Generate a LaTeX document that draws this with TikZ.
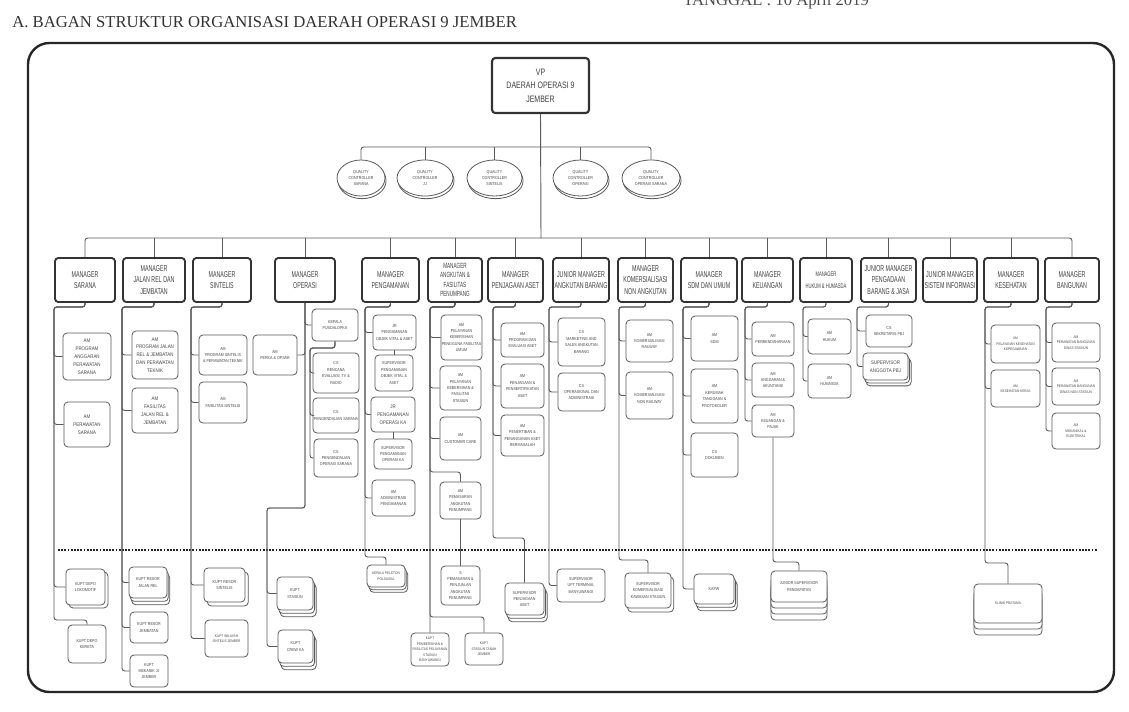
\documentclass[tikz,border=0pt]{standalone}
\usepackage{fontspec}
\setmainfont{Liberation Sans}
\newfontfamily\nar{Liberation Sans}[FakeStretch=0.62]
\newfontfamily\vpf{Liberation Sans}[FakeStretch=0.75]
\newfontfamily\sml{Liberation Sans}[FakeStretch=0.85]
\newfontfamily\ttl{Liberation Serif}
\usetikzlibrary{shapes.geometric,shadows}
\newcommand\fS{\sml\fontsize{3.9}{5.9}\selectfont}
\newcommand\fT{\sml\fontsize{3.2}{4.8}\selectfont}
\newcommand\fU{\sml\fontsize{2.8}{4.1}\selectfont}
\newcommand\fM{\nar\fontsize{6.4}{8.6}\selectfont}
\newcommand\bx[7][]{\node[#1,minimum width={(#5-#3)*0.75pt},minimum height={(#6-#4)*0.75pt}] (#2) at ({(#3+#5)/2},{(#4+#6)/2}) {#7};}
\tikzset{
 mgr/.style={draw=black!80,line width=1.4pt,rounded corners=2.5pt,fill=white,align=center,inner sep=0pt,font=\fM,text=black!75},
 sb/.style={draw=black!65,line width=0.6pt,rounded corners=3pt,fill=white,align=center,inner sep=0pt,font=\fT,text=black!72},
 sh/.style 2 args={general shadow={shadow xshift=#1pt,shadow yshift=-#2pt,draw=black!65,fill=white,line width=0.6pt}},
 sk1/.style 2 args={sh={#1}{#2}},
 sk2/.style 2 args={sh={2*#1}{2*#2},sh={#1}{#2}},
 sk3/.style 2 args={sh={3*#1}{3*#2},sh={2*#1}{2*#2},sh={#1}{#2}},
 qc/.style={ellipse,draw=black!65,line width=0.6pt,fill=white,align=center,inner sep=0pt,font=\fT,text=black!72,sh={0.8}{2}},
 cn/.style={draw=black!65,line width=0.7pt,rounded corners=2pt},
 dotl/.style={draw=black!85,line width=1.3pt,dash pattern=on 1.3pt off 1.1pt},
}
\begin{document}
\begin{tikzpicture}[x=0.75pt,y=-0.75pt]
\fill[white] (0,0) rectangle (1129,711);
\useasboundingbox (0,0) rectangle (1129,711);
% title
\node[anchor=base west,inner sep=0pt,font=\ttl\fontsize{12.5}{15}\selectfont,text=black!80] (title) at (12,27) {A. BAGAN STRUKTUR ORGANISASI DAERAH OPERASI 9 JEMBER};
\node[anchor=base west,inner sep=0pt,font=\ttl\fontsize{12.5}{15}\selectfont,text=black!70] (tgl) at (683,5) {TANGGAL : 10 April 2019};
% frame
\draw[line width=1.8pt,black!85,rounded corners=16pt] (28,43) rectangle (1114,692);
% VP and QC
\bx[mgr,font=\vpf\fontsize{7}{10}\selectfont,line width=1.6pt]{vp}{492}{58}{589}{113}{VP\\DAERAH OPERASI 9\\JEMBER}
\bx[qc]{q1}{337}{160}{385}{196}{QUALITY\\CONTROLLER\\SARANA}
\bx[qc]{q2}{397}{160}{453}{196}{QUALITY\\CONTROLLER\\JJ}
\bx[qc]{q3}{467}{160}{522}{196}{QUALITY\\CONTROLLER\\SINTELIS}
\bx[qc]{q4}{553}{160}{608}{196}{QUALITY\\CONTROLLER\\OPERASI}
\bx[qc]{q5}{622}{160}{680}{196}{QUALITY\\CONTROLLER\\OPERASI SARANA}
\coordinate (qy) at (541,147);
\coordinate (mb) at (541,238);
\draw[cn] (q1.north) |- (qy) -| (q5.north);
\foreach \q in {q2,q3,q4} \draw[cn] (\q.north) -- (\q.north |- qy);
\draw[cn] (vp.south) -- (mb);
% managers
\bx[mgr]{mS}{55}{258}{115}{302}{MANAGER\\SARANA}
\bx[mgr]{mJ}{123}{258}{185}{302}{MANAGER\\JALAN REL DAN\\JEMBATAN}
\bx[mgr]{mT}{193}{258}{251}{302}{MANAGER\\SINTELIS}
\bx[mgr]{mO}{275}{258}{335}{302}{MANAGER\\OPERASI}
\bx[mgr]{mP}{362}{258}{419}{302}{MANAGER\\PENGAMANAN}
\bx[mgr,font=\nar\fontsize{5.6}{7}\selectfont]{mA}{428}{258}{482}{302}{MANAGER\\ANGKUTAN \&\\FASILITAS\\PENUMPANG}
\bx[mgr]{mJa}{488}{258}{543}{302}{MANAGER\\PENJAGAAN ASET}
\bx[mgr]{mB}{553}{258}{609}{302}{JUNIOR MANAGER\\ANGKUTAN BARANG}
\bx[mgr]{mK}{618}{258}{673}{302}{MANAGER\\KOMERSIALISASI\\NON ANGKUTAN}
\bx[mgr]{mD}{681}{258}{737}{302}{MANAGER\\SDM DAN UMUM}
\bx[mgr]{mU}{742}{258}{793}{302}{MANAGER\\KEUANGAN}
\bx[mgr,font=\nar\fontsize{5}{8.6}\selectfont]{mH}{800}{258}{852}{302}{MANAGER\\HUKUM \& HUMASDA}
\bx[mgr]{mG}{861}{258}{916}{302}{JUNIOR MANAGER\\PENGADAAN\\BARANG \& JASA}
\bx[mgr]{mI}{923}{258}{977}{302}{JUNIOR MANAGER\\SISTEM INFORMASI}
\bx[mgr]{mE}{984}{258}{1038}{302}{MANAGER\\KESEHATAN}
\bx[mgr]{mN}{1045}{258}{1099}{302}{MANAGER\\BANGUNAN}
\draw[cn] (mS.north) |- (mb) -| (mN.north);
\foreach \m in {mJ,mT,mO,mP,mA,mJa,mB,mK,mD,mU,mH,mG,mI,mE} \draw[cn] (\m.north) -- (\m.north |- mb);
% dotted separator
\coordinate (dl) at (58,550); \coordinate (dr) at (1097,550);
\draw[dotl] (dl) -- (dr);
% SARANA
\bx[sb,font=\fS]{s1a}{63}{333}{111}{380}{AM\\PROGRAM\\ANGGARAN\\PERAWATAN\\SARANA}
\bx[sb,font=\fS]{s1b}{64}{402}{110}{447}{AM\\PERAWATAN\\SARANA}
\bx[sb,sk1={2.2}{2.2}]{s1c}{66}{569}{105}{605}{KUPT DEPO\\LOKOMOTIF}
\bx[sb]{s1d}{68}{625}{106}{663}{KUPT DEPO\\KERETA}
\coordinate (sS) at (54,307); \coordinate (sSj) at (54,620);
\foreach \c in {s1a,s1b,s1c} \draw[cn] (mS.south) |- (sS) |- (\c.west);
\draw[cn] (mS.south) |- (sS) -- (sSj) -| (s1d.north);
% JALAN REL
\bx[sb,font=\fS]{j1a}{132}{331}{178}{379}{AM\\PROGRAM JALAN\\REL \& JEMBATAN\\DAN PERAWATAN\\TEKNIK}
\bx[sb,font=\fS]{j1b}{132}{388}{178}{433}{AM\\FASILITAS\\JALAN REL \&\\JEMBATAN}
\bx[sb,sk2={1}{2.5}]{j1c}{129}{567}{167}{598}{KUPT RESOR\\JALAN REL}
\bx[sb]{j1d}{130}{612}{168}{643}{KUPT RESOR\\JEMBATAN}
\bx[sb]{j1e}{130}{655}{168}{687}{KUPT\\MEKANIK JJ\\JEMBER}
\coordinate (sJ) at (122,307);
\foreach \c in {j1a,j1b,j1c,j1d,j1e} \draw[cn] (mJ.south) |- (sJ) |- (\c.west);
% SINTELIS
\bx[sb]{t1a}{199}{335}{247}{375}{AM\\PROGRAM SINTELIS\\\& PERAWATAN TEKNIK}
\bx[sb]{t1b}{199}{382}{247}{423}{AM\\FASILITAS SINTELIS}
\bx[sb,sk1={2.5}{3}]{t1c}{204}{568}{245}{602}{KUPT RESOR\\SINTELIS}
\bx[sb,font=\fU]{t1d}{205}{620}{248}{657}{KUPT WILAYAH\\SINTELIS JEMBER}
\coordinate (sT) at (191,307);
\foreach \c in {t1a,t1b,t1c,t1d} \draw[cn] (mT.south) |- (sT) |- (\c.west);
% OPERASI
\bx[sb]{o1}{253}{335}{297}{375}{AM\\PERKA \& OPSAR}
\bx[sb]{o2}{312}{309}{358}{341}{KEPALA\\PUSDALOPKA}
\bx[sb]{o3}{313}{353}{359}{393}{CS\\RENCANA\\EVALUASI, TV \&\\RADIO}
\bx[sb]{o4}{313}{398}{359}{433}{CS\\PENGENDALIAN SARANA}
\bx[sb]{o5}{314}{439}{358}{477}{CS\\PENGENDALIAN\\OPERASI SARANA}
\bx[sb,sk2={1.2}{2.5}]{o6}{277}{577}{313}{610}{KUPT\\STASIUN}
\bx[sb,sk2={1.2}{2.5}]{o7}{278}{630}{313}{663}{KUPT\\CREW KA}
\coordinate (oA) at (305,508); \coordinate (oB) at (267,508); \coordinate (oC) at (310,348);
\draw[cn] (mO.south) |- (o1.east);
\draw[cn] (mO.south) |- (o2.west);
\foreach \c in {o3,o4,o5} \draw[cn] (o2.south) |- (oC) |- (\c.west);
\foreach \c in {o6,o7} \draw[cn] (mO.south) -- (oA) -- (oB) |- (\c.west);
% PENGAMANAN
\bx[sb]{p1}{373}{315}{416}{350}{JR\\PENGAMANAN\\OBJEK VITAL \& ASET}
\bx[sb]{p2}{375}{355}{413}{391}{SUPERVISOR\\PENGAMANAN\\OBJEK VITAL \&\\ASET}
\bx[sb,font=\fS]{p3}{371}{397}{415}{432}{JR\\PENGAMANAN\\OPERASI KA}
\bx[sb]{p4}{374}{439}{412}{469}{SUPERVISOR\\PENGAMANAN\\OPERASI KA}
\bx[sb]{p5}{372}{480}{415}{516}{AM\\ADMINISTRASI\\PENGAMANAN}
\bx[sb,font=\fU,sk2={1}{2}]{p6}{367}{565}{405}{587}{KEPALA PELETON\\POLSUSKA}
\coordinate (sP) at (365,307); \coordinate (sPj) at (365,557);
\foreach \c in {p1,p3,p5} \draw[cn] (mP.south) |- (sP) |- (\c.west);
\draw[cn] (p1.south) -- (p1.south |- p2.north);
\draw[cn] (p3.south) -- (p3.south |- p4.north);
\draw[cn] (mP.south) |- (sP) -- (sPj) -| (p6.north);
% ANGKUTAN & FASILITAS PENUMPANG
\bx[sb]{a1}{441}{315}{482}{360}{AM\\PELAYANAN\\KEBERSIHAN\\PENGGUNA FASILITAS\\UMUM}
\bx[sb]{a2}{440}{366}{481}{410}{AM\\PELAYANAN\\KEBERSIHAN \&\\FASILITAS\\STASIUN}
\bx[sb]{a3}{440}{417}{481}{460}{AM\\CUSTOMER CARE}
\bx[sb]{a4}{440}{482}{481}{519}{AM\\PEMASARAN\\ANGKUTAN\\PENUMPANG}
\bx[sb]{a5}{441}{566}{480}{605}{S\\PEMASARAN \&\\PENJUALAN\\ANGKUTAN\\PENUMPANG}
\bx[sb,font=\fU]{a6}{411}{633}{449}{666}{KUPT\\PEMBERSIHAN \&\\FASILITAS PELAYANAN\\STASIUN\\BANYUWANGI}
\bx[sb,font=\fU]{a7}{465}{633}{503}{665}{KUPT\\STASIUN TANAH\\JEMBER}
\coordinate (sA) at (430,307); \coordinate (sAj) at (430,472); \coordinate (sAk) at (430,617);
\foreach \c in {a1,a2,a3} \draw[cn] (mA.south) |- (sA) |- (\c.west);
\draw[cn] (mA.south) |- (sA) -- (sAj) -| (a4.north);
\draw[cn] (a4.south) -- (a4.south |- a5.north);
\draw[cn] (mA.south) |- (sA) -- (a6.north);
\draw[cn] (mA.south) |- (sA) -- (sAk) -| (a7.north);
% PENJAGAAN ASET
\bx[sb]{ja1}{501}{323}{544}{357}{AM\\PROGRAM DAN\\EVALUASI ASET}
\bx[sb]{ja2}{501}{364}{544}{408}{AM\\PENJAGAAN \&\\PENSERTIFIKATAN\\ASET}
\bx[sb]{ja3}{501}{415}{544}{456}{AM\\PENERTIBAN \&\\PENANGANAN ASET\\BERMASALAH}
\bx[sb,sk2={1.2}{2.5}]{ja4}{505}{583}{544}{615}{SUPERVISOR\\PENJAGAAN\\ASET}
\coordinate (sJa) at (493,307); \coordinate (sJaj) at (493,538);
\foreach \c in {ja1,ja2,ja3} \draw[cn] (mJa.south) |- (sJa) |- (\c.west);
\draw[cn] (mJa.south) |- (sJa) -- (sJaj) -| (ja4.north);
% ANGKUTAN BARANG
\bx[sb]{b1}{558}{318}{605}{366}{CS\\MARKETING AND\\SALES ANGKUTAN\\BARANG}
\bx[sb]{b2}{558}{373}{605}{411}{CS\\OPERASIONAL DAN\\ADMINISTRASI}
\bx[sb]{b3}{557}{569}{605}{602}{SUPERVISOR\\UPT TERMINAL\\BANYUWANGI}
\coordinate (sB) at (549,307);
\foreach \c in {b1,b2,b3} \draw[cn] (mB.south) |- (sB) |- (\c.west);
% KOMERSIALISASI
\bx[sb]{k1}{626}{320}{673}{362}{AM\\KOMERSIALISASI\\RAILWAY}
\bx[sb]{k2}{626}{372}{673}{419}{AM\\KOMERSIALISASI\\NON RAILWAY}
\bx[sb,sk1={2}{3}]{k3}{625}{573}{671}{608}{SUPERVISOR\\KOMERSIALISASI\\KAWASAN STASIUN}
\coordinate (sK) at (619,307); \coordinate (sKj) at (619,560);
\foreach \c in {k1,k2} \draw[cn] (mK.south) |- (sK) |- (\c.west);
\draw[cn] (mK.south) |- (sK) -- (sKj) -| (k3.north);
% SDM DAN UMUM
\bx[sb]{d1}{691}{316}{738}{361}{AM\\SDM}
\bx[sb]{d2}{691}{369}{738}{423}{AM\\KERUMAH\\TANGGAAN \&\\PROTOKOLER}
\bx[sb]{d3}{691}{433}{738}{477}{CS\\DOKUMEN}
\bx[sb,sk2={1.2}{2.5}]{d4}{694}{574}{734}{604}{KAPW}
\coordinate (sD) at (683,307);
\foreach \c in {d1,d2,d3,d4} \draw[cn] (mD.south) |- (sD) |- (\c.west);
% KEUANGAN
\bx[sb]{u1}{752}{322}{794}{356}{AM\\PERBENDAHARAAN}
\bx[sb]{u2}{752}{363}{794}{397}{AM\\ANGGARAN \&\\AKUNTANSI}
\bx[sb]{u3}{752}{405}{794}{437}{AM\\KEUANGAN \&\\PAJAK}
\bx[sb,sk3={0}{4.5}]{u4}{771}{571}{827}{602}{JUNIOR SUPERVISOR\\PENDAPATAN}
\coordinate (sU) at (745,307); \coordinate (uj) at (773,562);
\foreach \c in {u1,u2,u3} \draw[cn] (mU.south) |- (sU) |- (\c.west);
\draw[cn] (u3.south) |- (uj) -| (u4.north);
% HUKUM
\bx[sb]{h1}{808}{319}{851}{354}{AM\\HUKUM}
\bx[sb]{h2}{808}{364}{851}{398}{AM\\HUMASDA}
\coordinate (sH) at (803,307);
\foreach \c in {h1,h2} \draw[cn] (mH.south) |- (sH) |- (\c.west);
% PBJ
\bx[sb]{g1}{866}{315}{912}{347}{CS\\SEKRETARIS PBJ}
\bx[sb,font=\fS,sk2={1.2}{2.2}]{g2}{863}{353}{908}{380}{SUPERVISOR\\ANGGOTA PBJ}
\coordinate (sG) at (857,307);
\foreach \c in {g1,g2} \draw[cn] (mG.south) |- (sG) |- (\c.west);
% KESEHATAN
\bx[sb,font=\fU]{e1}{991}{325}{1040}{363}{AM\\PELAYANAN KESEHATAN\\KEPEGAWAIAN}
\bx[sb,font=\fU]{e2}{991}{370}{1040}{407}{AM\\KESEHATAN KERJA}
\bx[sb,font=\fU,sk2={0}{4.5}]{e3}{974}{584}{1042}{623}{KLINIK PRATAMA}
\coordinate (sE) at (985,307); \coordinate (sEj) at (985,563);
\foreach \c in {e1,e2} \draw[cn] (mE.south) |- (sE) |- (\c.west);
\draw[cn] (mE.south) |- (sE) -- (sEj) -| (e3.north);
% BANGUNAN
\bx[sb,font=\fU]{n1}{1052}{323}{1100}{362}{AM\\PERAWATAN BANGUNAN\\DINAS STASIUN}
\bx[sb,font=\fU]{n2}{1052}{368}{1100}{405}{AM\\PERAWATAN BANGUNAN\\DINAS NON STASIUN}
\bx[sb,font=\fU]{n3}{1052}{413}{1100}{449}{AM\\MEKANIKAL \&\\ELEKTRIKAL}
\coordinate (sN) at (1046,307);
\foreach \c in {n1,n2,n3} \draw[cn] (mN.south) |- (sN) |- (\c.west);
\end{tikzpicture}
\end{document}
